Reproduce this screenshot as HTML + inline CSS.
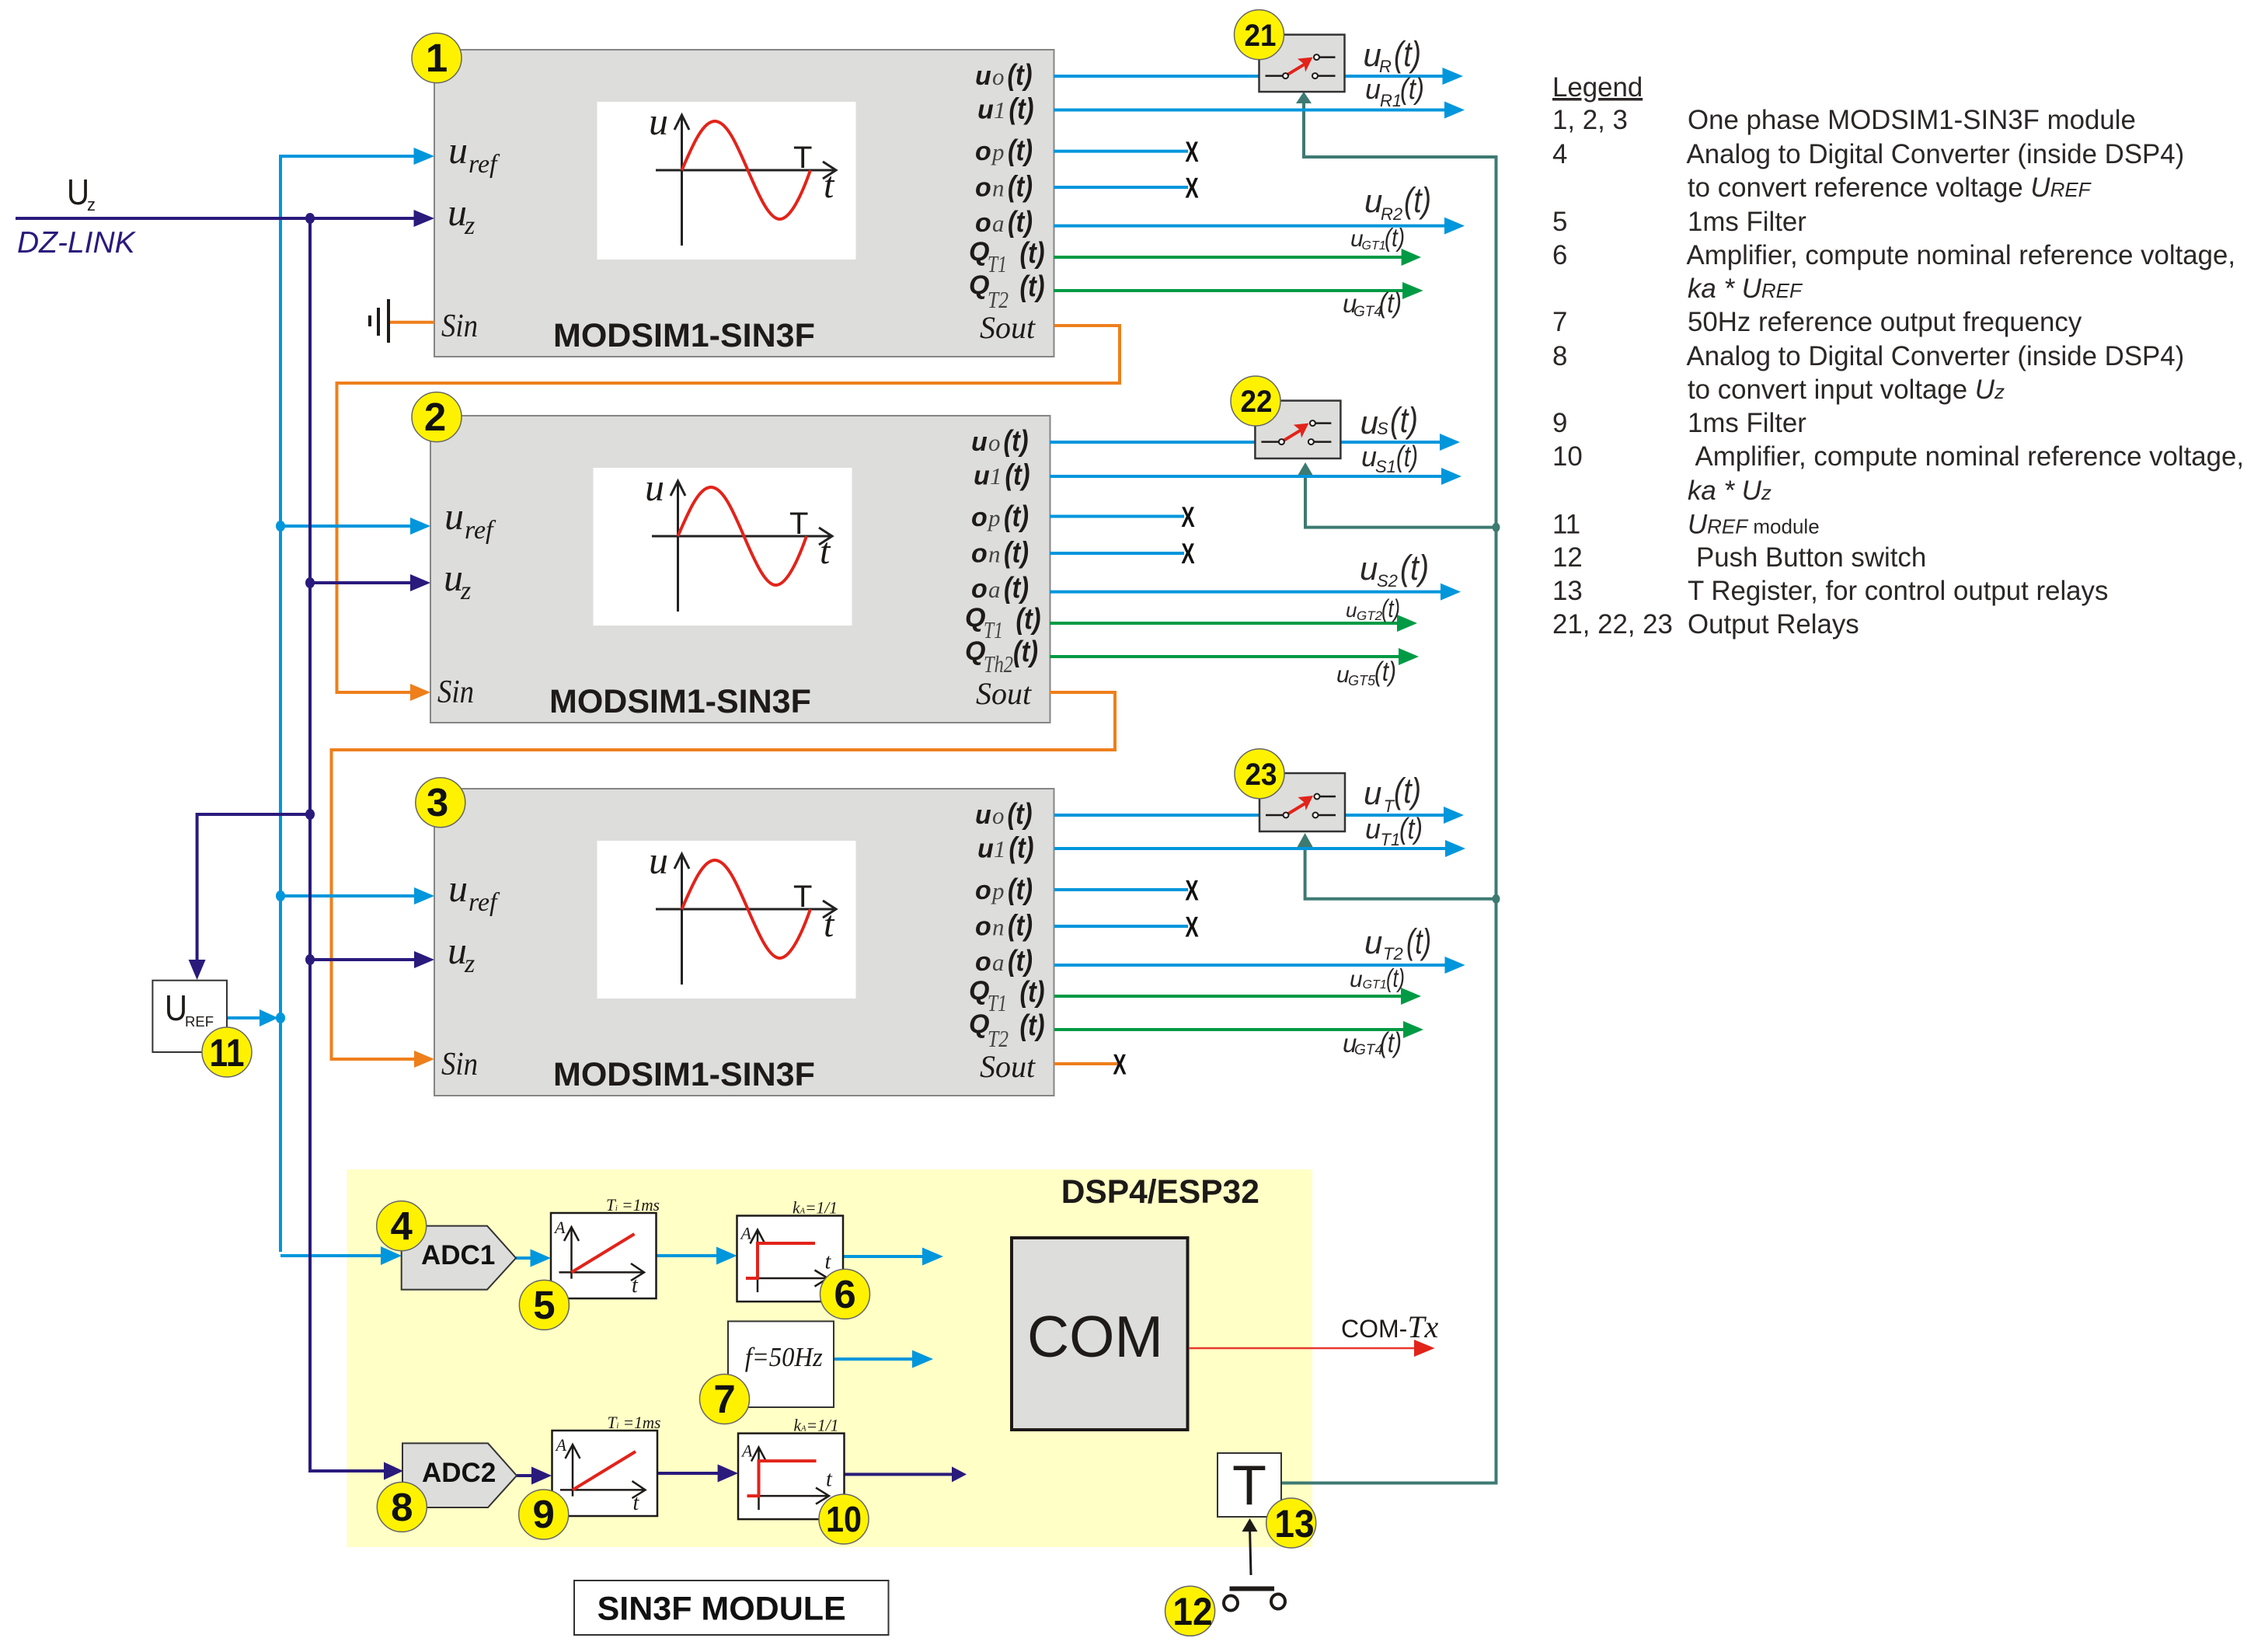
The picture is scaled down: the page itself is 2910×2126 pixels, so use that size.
<!DOCTYPE html>
<html><head><meta charset="utf-8"><title>SIN3F MODULE</title>
<style>
html,body{margin:0;padding:0;background:#fff}
svg{display:block}
text{font-family:"Liberation Sans",sans-serif;fill:#1d1a18}
.s{font-family:"Liberation Serif",serif;font-style:italic}
.b{font-weight:bold}
.bi{font-weight:bold;font-style:italic;font-size:34px}
.bt{font-weight:bold;font-style:italic;font-size:38px}
.i{font-style:italic}
.lg{font-size:34.85px;fill:#2a2726}
.bd{font-weight:bold;fill:#111}
.sm{font-family:"Liberation Serif",serif;font-style:italic;font-size:31px;fill:#444}
.r{font-style:italic;fill:#2a2726}
</style></head><body>
<svg xmlns="http://www.w3.org/2000/svg" width="2910" height="2126" viewBox="0 0 2910 2126">
<rect width="2910" height="2126" fill="#fff"/>

<!-- DSP background -->
<rect x="446.5" y="1505" width="1242.5" height="486" fill="#ffffc6"/>

<!-- MODULE 1 -->
<g transform="translate(559,64)">
<rect x="0" y="0" width="797.5" height="395" fill="#dddddc" stroke="#858585" stroke-width="2"/>
<rect x="209.5" y="67" width="333" height="203" fill="#fff"/>
<path d="M318.5 252V84M309 103L318.5 84L328 103M285 155H516M500 144L517 155L500 166" fill="none" stroke="#222" stroke-width="3"/>
<path transform="translate(318.5,155)" d="M0 0C15.3 -35.6 27.6 -63 42.5 -63C57.4 -63 69.7 -35.6 85 0C100.3 35.6 113 63 126 63C139 63 153 35.6 165.5 0" fill="none" stroke="#e2231a" stroke-width="4"/>
<text class="s" x="276" y="109" font-size="50">u</text>
<text x="462" y="152" font-size="40">T</text>
<text class="s" x="501" y="190" font-size="48">t</text>
<text class="s" x="18" y="146" font-size="50">u</text><text class="s" x="44" y="158" font-size="34" fill="#333">ref</text>
<text class="s" x="17" y="226" font-size="50">u</text><text class="s" x="39" y="237" font-size="34" fill="#333">z</text>
<text class="s" x="9" y="369" font-size="42" textLength="47" lengthAdjust="spacingAndGlyphs">Sin</text>
<text class="b" x="153" y="382" font-size="43">MODSIM1-SIN3F</text>
<text class="bi" x="696" y="45">u</text><text class="sm" x="718" y="45">o</text><text class="bt" x="737.5" y="45" textLength="32" lengthAdjust="spacingAndGlyphs">(t)</text>
<text class="bi" x="699" y="88.7">u</text><text class="sm" x="720" y="88" font-size="26">1</text><text class="bt" x="739.5" y="88.7" textLength="32" lengthAdjust="spacingAndGlyphs">(t)</text>
<text class="bi" x="696" y="142">o</text><text class="sm" x="718" y="142">p</text><text class="bt" x="738" y="142" textLength="32" lengthAdjust="spacingAndGlyphs">(t)</text>
<text class="bi" x="696" y="188.7">o</text><text class="sm" x="718" y="188.7">n</text><text class="bt" x="738" y="188.7" textLength="32" lengthAdjust="spacingAndGlyphs">(t)</text>
<text class="bi" x="696" y="234">o</text><text class="sm" x="718" y="234">a</text><text class="bt" x="738" y="234" textLength="32" lengthAdjust="spacingAndGlyphs">(t)</text>
<text class="bi" x="688" y="271">Q</text><text class="sm" x="712" y="286" font-size="27" textLength="25" lengthAdjust="spacingAndGlyphs">T1</text><text class="bt" x="753.5" y="274" textLength="32" lengthAdjust="spacingAndGlyphs">(t)</text>
<text class="bi" x="688" y="314">Q</text><text class="sm" x="712" y="332" font-size="27" textLength="27" lengthAdjust="spacingAndGlyphs">T2</text><text class="bt" x="753.5" y="317" textLength="32" lengthAdjust="spacingAndGlyphs">(t)</text>
<text class="s" x="702" y="371" font-size="40" fill="#333">Sout</text>
</g>

<!-- MODULE 2 -->
<g transform="translate(554,535)">
<rect x="0" y="0" width="797.5" height="395" fill="#dddddc" stroke="#858585" stroke-width="2"/>
<rect x="209.5" y="67" width="333" height="203" fill="#fff"/>
<path d="M318.5 252V84M309 103L318.5 84L328 103M285 155H516M500 144L517 155L500 166" fill="none" stroke="#222" stroke-width="3"/>
<path transform="translate(318.5,155)" d="M0 0C15.3 -35.6 27.6 -63 42.5 -63C57.4 -63 69.7 -35.6 85 0C100.3 35.6 113 63 126 63C139 63 153 35.6 165.5 0" fill="none" stroke="#e2231a" stroke-width="4"/>
<text class="s" x="276" y="109" font-size="50">u</text>
<text x="462" y="152" font-size="40">T</text>
<text class="s" x="501" y="190" font-size="48">t</text>
<text class="s" x="18" y="146" font-size="50">u</text><text class="s" x="44" y="158" font-size="34" fill="#333">ref</text>
<text class="s" x="17" y="225" font-size="50">u</text><text class="s" x="39" y="236" font-size="34" fill="#333">z</text>
<text class="s" x="9" y="369" font-size="42" textLength="47" lengthAdjust="spacingAndGlyphs">Sin</text>
<text class="b" x="153" y="382" font-size="43">MODSIM1-SIN3F</text>
<text class="bi" x="696" y="45">u</text><text class="sm" x="718" y="45">o</text><text class="bt" x="737.5" y="45" textLength="32" lengthAdjust="spacingAndGlyphs">(t)</text>
<text class="bi" x="699" y="88.7">u</text><text class="sm" x="720" y="88" font-size="26">1</text><text class="bt" x="739.5" y="88.7" textLength="32" lengthAdjust="spacingAndGlyphs">(t)</text>
<text class="bi" x="696" y="142">o</text><text class="sm" x="718" y="142">p</text><text class="bt" x="738" y="142" textLength="32" lengthAdjust="spacingAndGlyphs">(t)</text>
<text class="bi" x="696" y="188.7">o</text><text class="sm" x="718" y="188.7">n</text><text class="bt" x="738" y="188.7" textLength="32" lengthAdjust="spacingAndGlyphs">(t)</text>
<text class="bi" x="696" y="234">o</text><text class="sm" x="718" y="234">a</text><text class="bt" x="738" y="234" textLength="32" lengthAdjust="spacingAndGlyphs">(t)</text>
<text class="bi" x="688" y="271">Q</text><text class="sm" x="712" y="286" font-size="27" textLength="25" lengthAdjust="spacingAndGlyphs">T1</text><text class="bt" x="753.5" y="274" textLength="32" lengthAdjust="spacingAndGlyphs">(t)</text>
<text class="bi" x="688" y="314">Q</text><text class="sm" x="712" y="330" font-size="25" textLength="38" lengthAdjust="spacingAndGlyphs">Th2</text><text class="bt" x="750" y="316" textLength="32" lengthAdjust="spacingAndGlyphs">(t)</text>
<text class="s" x="702" y="371" font-size="40" fill="#333">Sout</text>
</g>

<!-- MODULE 3 -->
<g transform="translate(559,1015)">
<rect x="0" y="0" width="797.5" height="395" fill="#dddddc" stroke="#858585" stroke-width="2"/>
<rect x="209.5" y="67" width="333" height="203" fill="#fff"/>
<path d="M318.5 252V84M309 103L318.5 84L328 103M285 155H516M500 144L517 155L500 166" fill="none" stroke="#222" stroke-width="3"/>
<path transform="translate(318.5,155)" d="M0 0C15.3 -35.6 27.6 -63 42.5 -63C57.4 -63 69.7 -35.6 85 0C100.3 35.6 113 63 126 63C139 63 153 35.6 165.5 0" fill="none" stroke="#e2231a" stroke-width="4"/>
<text class="s" x="276" y="109" font-size="50">u</text>
<text x="462" y="152" font-size="40">T</text>
<text class="s" x="501" y="190" font-size="48">t</text>
<text class="s" x="18" y="145" font-size="50">u</text><text class="s" x="44" y="157" font-size="34" fill="#333">ref</text>
<text class="s" x="17" y="225" font-size="50">u</text><text class="s" x="39" y="236" font-size="34" fill="#333">z</text>
<text class="s" x="9" y="368" font-size="42" textLength="47" lengthAdjust="spacingAndGlyphs">Sin</text>
<text class="b" x="153" y="382" font-size="43">MODSIM1-SIN3F</text>
<text class="bi" x="696" y="45">u</text><text class="sm" x="718" y="45">o</text><text class="bt" x="737.5" y="45" textLength="32" lengthAdjust="spacingAndGlyphs">(t)</text>
<text class="bi" x="699" y="88.7">u</text><text class="sm" x="720" y="88" font-size="26">1</text><text class="bt" x="739.5" y="88.7" textLength="32" lengthAdjust="spacingAndGlyphs">(t)</text>
<text class="bi" x="696" y="142">o</text><text class="sm" x="718" y="142">p</text><text class="bt" x="738" y="142" textLength="32" lengthAdjust="spacingAndGlyphs">(t)</text>
<text class="bi" x="696" y="188.7">o</text><text class="sm" x="718" y="188.7">n</text><text class="bt" x="738" y="188.7" textLength="32" lengthAdjust="spacingAndGlyphs">(t)</text>
<text class="bi" x="696" y="234">o</text><text class="sm" x="718" y="234">a</text><text class="bt" x="738" y="234" textLength="32" lengthAdjust="spacingAndGlyphs">(t)</text>
<text class="bi" x="688" y="271">Q</text><text class="sm" x="712" y="286" font-size="27" textLength="25" lengthAdjust="spacingAndGlyphs">T1</text><text class="bt" x="753.5" y="274" textLength="32" lengthAdjust="spacingAndGlyphs">(t)</text>
<text class="bi" x="688" y="314">Q</text><text class="sm" x="712" y="332" font-size="27" textLength="27" lengthAdjust="spacingAndGlyphs">T2</text><text class="bt" x="753.5" y="317" textLength="32" lengthAdjust="spacingAndGlyphs">(t)</text>
<text class="s" x="702" y="371" font-size="40" fill="#333">Sout</text>
</g>

<!-- orange wires -->
<g fill="none" stroke="#ee7f1b" stroke-width="4">
<path d="M1357 419H1441V493H433.5V891H535"/>
<path d="M1351 891H1435V965H426.5V1363H535"/>
<path d="M1357 1369H1440"/>
<path d="M501 414.7H559"/>
</g>
<g fill="#ee7f1b">
<polygon points="528,880 554,891 528,902"/>
<polygon points="533,1352 559,1363 533,1374"/>
</g>
<g stroke="#1d1a18" fill="none">
<path d="M500 385V441" stroke-width="4"/><path d="M487 396V432" stroke-width="4"/><path d="M476 406V420" stroke-width="4"/>
</g>

<!-- teal wires -->
<g fill="none" stroke="#3d7a72" stroke-width="4">
<path d="M1649 1908.5H1925.5V202H1678V130"/>
<path d="M1925.5 678.6H1680V610"/>
<path d="M1925.5 1156.7H1679.6V1088"/>
</g>
<g fill="#3d7a72">
<polygon points="1678,118 1668,133 1688,133"/>
<polygon points="1680,595 1670,612 1690,612"/>
<polygon points="1679.6,1072 1669.6,1090 1689.6,1090"/>
<ellipse cx="1925.5" cy="678.6" rx="5" ry="6"/>
<ellipse cx="1925.5" cy="1156.7" rx="5" ry="6"/>
</g>

<!-- blue wires -->
<g fill="none" stroke="#0096dc" stroke-width="4">
<path d="M361 1611V201H535"/>
<path d="M361 677H530"/>
<path d="M361 1153H535"/>
<path d="M292 1310H340"/>
<path d="M361 1616H492"/>
<path d="M1356 98H1860M1356 141.5H1862M1356 194.6H1529M1356 241H1529M1356 290.6H1862"/>
<path d="M1351 569H1856M1351 613H1858M1351 664.5H1524M1351 712H1524M1351 761.6H1857"/>
<path d="M1357 1049H1861M1357 1092H1863M1357 1145H1529M1357 1192H1529M1357 1242H1862"/>
<path d="M664 1619H685M844 1616H925M1085 1617H1190M1073 1749H1177"/>
</g>
<g fill="#0096dc">
<polygon points="532.5,190 559,201 532.5,212"/>
<polygon points="528,666 554,677 528,688"/>
<polygon points="533,1142 559,1153 533,1164"/>
<polygon points="334,1299 358,1310 334,1321"/>
<polygon points="490,1604 517,1616 490,1628"/>
<polygon points="682.5,1607.5 709,1619 682.5,1630.5"/>
<polygon points="922,1604.5 948.5,1616 922,1627.5"/>
<polygon points="1187,1605.5 1214,1617 1187,1628.5"/>
<polygon points="1174,1737.5 1201,1749 1174,1760.5"/>
<polygon points="1856.5,87 1883,98 1856.5,109"/>
<polygon points="1859,130.5 1885,141.5 1859,152.5"/>
<polygon points="1859,279.6 1885,290.6 1859,301.6"/>
<polygon points="1853,558 1879,569 1853,580"/>
<polygon points="1855,602 1881,613 1855,624"/>
<polygon points="1854,750.6 1880,761.6 1854,772.6"/>
<polygon points="1858,1038 1884,1049 1858,1060"/>
<polygon points="1860,1081 1886,1092 1860,1103"/>
<polygon points="1859.5,1231 1885.6,1242 1859.5,1253"/>
<ellipse cx="361" cy="677" rx="6" ry="7"/>
<ellipse cx="361" cy="1153" rx="6" ry="7"/>
<ellipse cx="361" cy="1310" rx="6" ry="7"/>
</g>

<!-- navy wires -->
<g fill="none" stroke="#2a1a7c" stroke-width="4">
<path d="M20 281H540"/>
<path d="M399 281V1893H500"/>
<path d="M399 750H530"/>
<path d="M399 1235H535"/>
<path d="M399 1048H253.6V1240"/>
<path d="M665 1899H688M846 1896H927M1085.6 1897.4H1228"/>
</g>
<g fill="#2a1a7c">
<polygon points="532.5,270 559,281 532.5,292"/>
<polygon points="528,739 554,750 528,761"/>
<polygon points="533,1224 559,1235 533,1246"/>
<polygon points="242.6,1235 264.6,1235 253.6,1261"/>
<polygon points="494,1881.5 519,1893 494,1904.5"/>
<polygon points="684,1887.5 710,1899 684,1910.5"/>
<polygon points="923.6,1884.5 950,1896 923.6,1907.5"/>
<polygon points="1225,1887.4 1244,1897.4 1225,1907.4"/>
<ellipse cx="399" cy="281" rx="6" ry="7"/>
<ellipse cx="399" cy="750" rx="6" ry="7"/>
<ellipse cx="399" cy="1048" rx="6" ry="7"/>
<ellipse cx="399" cy="1235" rx="6" ry="7"/>
</g>

<!-- green wires -->
<g fill="none" stroke="#009a44" stroke-width="4">
<path d="M1356 331H1806M1356 374H1808"/>
<path d="M1351 802H1802M1351 845H1804"/>
<path d="M1357 1282H1806M1357 1325H1808"/>
</g>
<g fill="#009a44">
<polygon points="1803.6,320 1829,331 1803.6,342"/>
<polygon points="1805,363 1831.6,374 1805,385"/>
<polygon points="1798,791 1824,802 1798,813"/>
<polygon points="1800,834 1826,845 1800,856"/>
<polygon points="1803,1271 1829,1282 1803,1293"/>
<polygon points="1806,1314 1832,1325 1806,1336"/>
</g>

<!-- X terminators -->
<g class="bd" font-size="37">
<text transform="translate(1534,208) scale(.7,1)" text-anchor="middle" class="bd">X</text>
<text transform="translate(1534,254.5) scale(.7,1)" text-anchor="middle" class="bd">X</text>
<text transform="translate(1529,678) scale(.7,1)" text-anchor="middle" class="bd">X</text>
<text transform="translate(1529,725) scale(.7,1)" text-anchor="middle" class="bd">X</text>
<text transform="translate(1534,1158.5) scale(.7,1)" text-anchor="middle" class="bd">X</text>
<text transform="translate(1534,1205.5) scale(.7,1)" text-anchor="middle" class="bd">X</text>
<text transform="translate(1441,1382.5) scale(.7,1)" text-anchor="middle" class="bd">X</text>
</g>

<!-- Relays -->
<g transform="translate(1620.5,44.6)">
<rect width="110" height="73.5" fill="#dddddc" stroke="#333" stroke-width="2.5"/>
<path d="M8 53H32M76 53H98M78 29H98" stroke="#1d1a18" stroke-width="2.5" fill="none"/>
<path d="M34 53L62 36" stroke="#e2231a" stroke-width="4"/>
<polygon points="49.4,31 69,29 59.6,48 58,38" fill="#e2231a"/>
<circle cx="34" cy="53" r="3.5" fill="#fff" stroke="#1d1a18" stroke-width="2"/>
<circle cx="72" cy="53" r="3.5" fill="#fff" stroke="#1d1a18" stroke-width="2"/>
<circle cx="74" cy="29" r="3.5" fill="#fff" stroke="#1d1a18" stroke-width="2"/>
</g>
<g transform="translate(1615.4,515.6)">
<rect width="110" height="74.4" fill="#dddddc" stroke="#333" stroke-width="2.5"/>
<path d="M8 53H32M76 53H98M78 29H98" stroke="#1d1a18" stroke-width="2.5" fill="none"/>
<path d="M34 53L62 36" stroke="#e2231a" stroke-width="4"/>
<polygon points="49.4,31 69,29 59.6,48 58,38" fill="#e2231a"/>
<circle cx="34" cy="53" r="3.5" fill="#fff" stroke="#1d1a18" stroke-width="2"/>
<circle cx="72" cy="53" r="3.5" fill="#fff" stroke="#1d1a18" stroke-width="2"/>
<circle cx="74" cy="29" r="3.5" fill="#fff" stroke="#1d1a18" stroke-width="2"/>
</g>
<g transform="translate(1621,995)">
<rect width="110" height="75" fill="#dddddc" stroke="#333" stroke-width="2.5"/>
<path d="M8 54H32M76 54H98M78 30H98" stroke="#1d1a18" stroke-width="2.5" fill="none"/>
<path d="M34 54L62 37" stroke="#e2231a" stroke-width="4"/>
<polygon points="49.4,31 69,29 59.6,48 58,38" fill="#e2231a"/>
<circle cx="34" cy="54" r="3.5" fill="#fff" stroke="#1d1a18" stroke-width="2"/>
<circle cx="72" cy="54" r="3.5" fill="#fff" stroke="#1d1a18" stroke-width="2"/>
<circle cx="74" cy="30" r="3.5" fill="#fff" stroke="#1d1a18" stroke-width="2"/>
</g>

<!-- output labels m1 -->
<text class="r" x="1754.5" y="85" font-size="42">u</text><text class="r" x="1775" y="93" font-size="22">R</text><text class="r" x="1794" y="85" font-size="45" textLength="35" lengthAdjust="spacingAndGlyphs">(t)</text>
<text class="r" x="1757" y="127" font-size="36">u</text><text class="r" x="1776" y="137" font-size="22">R1</text><text class="r" x="1802" y="127" font-size="38" textLength="31" lengthAdjust="spacingAndGlyphs">(t)</text>
<text class="r" x="1756" y="273" font-size="42">u</text><text class="r" x="1777" y="283" font-size="22">R2</text><text class="r" x="1807" y="273" font-size="45" textLength="35" lengthAdjust="spacingAndGlyphs">(t)</text>
<text class="r" x="1738" y="317" font-size="30">u</text><text class="r" x="1752.5" y="321" font-size="16">GT1</text><text class="r" x="1782" y="317" font-size="33" textLength="26" lengthAdjust="spacingAndGlyphs">(t)</text>
<text class="r" x="1728" y="402" font-size="33">u</text><text class="r" x="1742" y="407" font-size="19">GT4</text><text class="r" x="1775" y="402" font-size="36" textLength="29" lengthAdjust="spacingAndGlyphs">(t)</text>
<!-- m2 -->
<text class="r" x="1750.6" y="558" font-size="42">u</text><text class="r" x="1772" y="559" font-size="22">S</text><text class="r" x="1789" y="556" font-size="45" textLength="36" lengthAdjust="spacingAndGlyphs">(t)</text>
<text class="r" x="1752" y="600" font-size="36">u</text><text class="r" x="1770" y="608" font-size="22">S1</text><text class="r" x="1797" y="600" font-size="38" textLength="28" lengthAdjust="spacingAndGlyphs">(t)</text>
<text class="r" x="1750" y="746" font-size="42">u</text><text class="r" x="1772" y="755" font-size="22">S2</text><text class="r" x="1802" y="746" font-size="45" textLength="37" lengthAdjust="spacingAndGlyphs">(t)</text>
<text class="r" x="1732" y="794" font-size="26">u</text><text class="r" x="1746" y="798" font-size="17">GT2</text><text class="r" x="1778" y="794" font-size="32" textLength="24" lengthAdjust="spacingAndGlyphs">(t)</text>
<text class="r" x="1720" y="878" font-size="30">u</text><text class="r" x="1735" y="882" font-size="18">GT5</text><text class="r" x="1769" y="876" font-size="35" textLength="28" lengthAdjust="spacingAndGlyphs">(t)</text>
<!-- m3 -->
<text class="r" x="1755" y="1035" font-size="42">u</text><text class="r" x="1780.6" y="1045" font-size="22">T</text><text class="r" x="1794" y="1033" font-size="45" textLength="35" lengthAdjust="spacingAndGlyphs">(t)</text>
<text class="r" x="1757" y="1079" font-size="36">u</text><text class="r" x="1776.5" y="1088" font-size="22">T1</text><text class="r" x="1801" y="1079" font-size="38" textLength="30" lengthAdjust="spacingAndGlyphs">(t)</text>
<text class="r" x="1756" y="1227" font-size="42">u</text><text class="r" x="1780" y="1235" font-size="22">T2</text><text class="r" x="1810" y="1227" font-size="45" textLength="32" lengthAdjust="spacingAndGlyphs">(t)</text>
<text class="r" x="1737" y="1270" font-size="30">u</text><text class="r" x="1753.6" y="1272" font-size="16">GT1</text><text class="r" x="1784" y="1270" font-size="33" textLength="24" lengthAdjust="spacingAndGlyphs">(t)</text>
<text class="r" x="1728" y="1354" font-size="33">u</text><text class="r" x="1743" y="1357" font-size="19">GT4</text><text class="r" x="1776" y="1354" font-size="36" textLength="28" lengthAdjust="spacingAndGlyphs">(t)</text>

<!-- Uz label -->
<text x="86" y="263" font-size="46" textLength="29" lengthAdjust="spacingAndGlyphs">U</text><text x="112" y="271" font-size="22" fill="#444">z</text>
<text class="i" x="22" y="325" font-size="39" style="fill:#2a1a7c">DZ-LINK</text>

<!-- UREF box -->
<rect x="196.4" y="1261.7" width="95.6" height="92.3" fill="#fff" stroke="#333" stroke-width="2"/>
<text x="212" y="1313" font-size="46" textLength="29" lengthAdjust="spacingAndGlyphs">U</text><text x="238" y="1321" font-size="18.5" fill="#333">REF</text>

<!-- ADC -->
<polygon points="516.7,1577.6 627,1577.6 664,1619 627,1659.6 516.7,1659.6" fill="#dddddc" stroke="#333" stroke-width="2"/>
<text class="bd" x="542" y="1627" font-size="35">ADC1</text>
<polygon points="518,1857.4 628,1857.4 665,1899 628,1940 518,1940" fill="#dddddc" stroke="#333" stroke-width="2"/>
<text class="bd" x="543" y="1907" font-size="35">ADC2</text>

<!-- Filter 5 -->
<g transform="translate(709,1561)">
<rect width="135.5" height="110" fill="#fff" stroke="#1d1a18" stroke-width="2.5"/>
<path d="M26.5 84.6V19M17 36L26.5 18L36 36M10.5 76.4H119M103 65L120 76.4L103 87" fill="none" stroke="#1d1a18" stroke-width="2.5"/>
<path d="M26.5 76.4L107.5 27" stroke="#e2231a" stroke-width="4"/>
<text class="s" x="5" y="26" font-size="22" fill="#444">A</text>
<text class="s" x="104" y="102" font-size="28">t</text>
<text class="s" x="71" y="-3" font-size="22" textLength="69" lengthAdjust="spacingAndGlyphs" fill="#333">T<tspan font-size="11">i</tspan> =1ms</text>
</g>
<!-- Filter 9 -->
<g transform="translate(710.5,1841)">
<rect width="135.5" height="110" fill="#fff" stroke="#1d1a18" stroke-width="2.5"/>
<path d="M26.5 84.6V19M17 36L26.5 18L36 36M10.5 76.4H119M103 65L120 76.4L103 87" fill="none" stroke="#1d1a18" stroke-width="2.5"/>
<path d="M26.5 76.4L107.5 27" stroke="#e2231a" stroke-width="4"/>
<text class="s" x="5" y="26" font-size="22" fill="#444">A</text>
<text class="s" x="104" y="102" font-size="28">t</text>
<text class="s" x="71" y="-3" font-size="22" textLength="69" lengthAdjust="spacingAndGlyphs" fill="#333">T<tspan font-size="11">i</tspan> =1ms</text>
</g>
<!-- Amp 6 -->
<g transform="translate(948.5,1564.5)">
<rect width="136.5" height="110.5" fill="#fff" stroke="#1d1a18" stroke-width="2.5"/>
<path d="M26.5 98.5V19M17 36L26.5 18L36 36M11.5 80.5H116M100 70L117 80.5L100 91" fill="none" stroke="#1d1a18" stroke-width="2.5"/>
<path d="M11.5 80.5H26.5V35.5H100.5" fill="none" stroke="#e2231a" stroke-width="4"/>
<text class="s" x="5" y="30" font-size="22" fill="#444">A</text>
<text class="s" x="113" y="68" font-size="28">t</text>
<text class="s" x="71.5" y="-3" font-size="22" textLength="58" lengthAdjust="spacingAndGlyphs" fill="#333">k<tspan font-size="11">A</tspan>=1/1</text>
</g>
<!-- Amp 10 -->
<g transform="translate(950,1844.6)">
<rect width="136.5" height="110.5" fill="#fff" stroke="#1d1a18" stroke-width="2.5"/>
<path d="M26.5 98.5V19M17 36L26.5 18L36 36M11.5 80.5H116M100 70L117 80.5L100 91" fill="none" stroke="#1d1a18" stroke-width="2.5"/>
<path d="M11.5 80.5H26.5V35.5H100.5" fill="none" stroke="#e2231a" stroke-width="4"/>
<text class="s" x="5" y="30" font-size="22" fill="#444">A</text>
<text class="s" x="113" y="68" font-size="28">t</text>
<text class="s" x="71.5" y="-3" font-size="22" textLength="58" lengthAdjust="spacingAndGlyphs" fill="#333">k<tspan font-size="11">A</tspan>=1/1</text>
</g>
<!-- 50Hz -->
<rect x="937" y="1700.4" width="136" height="110.6" fill="#fff" stroke="#333" stroke-width="2"/>
<text class="s" x="958.7" y="1758" font-size="35" textLength="100" lengthAdjust="spacingAndGlyphs">f=50Hz</text>

<!-- COM -->
<rect x="1302" y="1593" width="226.5" height="247" fill="#dddddc" stroke="#1d1a18" stroke-width="4"/>
<text x="1322" y="1746" font-size="75">COM</text>
<path d="M1530 1735H1825" stroke="#e8392f" stroke-width="2.5"/>
<polygon points="1820,1724 1846.5,1735 1820,1746" fill="#e2231a"/>
<text x="1726" y="1721" font-size="32">COM-<tspan class="s" font-size="40">Tx</tspan></text>
<text class="b" x="1365.7" y="1548" font-size="42.5">DSP4/ESP32</text>

<!-- T -->
<rect x="1567" y="1870" width="82" height="82" fill="#fff" stroke="#333" stroke-width="2"/>
<text x="1586" y="1936.5" font-size="72">T</text>
<path d="M1610 2027L1608.5 1965" stroke="#1d1a18" stroke-width="3"/>
<polygon points="1608.5,1954 1598.5,1971 1618.5,1971" fill="#1d1a18"/>
<path d="M1582.5 2044.5H1640" stroke="#1d1a18" stroke-width="6"/>
<ellipse cx="1584" cy="2063" rx="9" ry="9.5" fill="#fff" stroke="#1d1a18" stroke-width="4"/>
<ellipse cx="1645" cy="2061" rx="9" ry="9.5" fill="#fff" stroke="#1d1a18" stroke-width="4"/>

<!-- SIN3F MODULE -->
<rect x="739" y="2034" width="404.5" height="70" fill="#fff" stroke="#333" stroke-width="2"/>
<text class="bd" x="768.6" y="2084.5" font-size="43">SIN3F MODULE</text>

<!-- Badges -->
<g fill="#fff200" stroke="#666" stroke-width="1.5">
<circle cx="562" cy="74.6" r="32"/><circle cx="562" cy="536.6" r="32"/><circle cx="566.8" cy="1032.7" r="32"/>
<circle cx="516.7" cy="1577.6" r="32"/><circle cx="700.4" cy="1679.4" r="32"/><circle cx="1087.5" cy="1665.4" r="32"/>
<circle cx="932.5" cy="1800.5" r="32"/><circle cx="517.3" cy="1939.4" r="32"/><circle cx="699.7" cy="1949" r="32"/>
<circle cx="1086" cy="1955" r="32"/><circle cx="292" cy="1354" r="32"/><circle cx="1531.6" cy="2073.3" r="32"/>
<circle cx="1661.7" cy="1960" r="32"/><circle cx="1620.5" cy="44.6" r="32"/><circle cx="1616" cy="516" r="32"/><circle cx="1621" cy="995.7" r="32"/>
</g>
<g text-anchor="middle" font-size="51">
<text class="bd" x="562" y="92">1</text><text class="bd" x="560" y="554">2</text><text class="bd" x="563" y="1050">3</text>
<text class="bd" x="516.7" y="1595">4</text><text class="bd" x="700.4" y="1697">5</text><text class="bd" x="1087.5" y="1683">6</text>
<text class="bd" x="932.5" y="1818">7</text><text class="bd" x="517.3" y="1957">8</text><text class="bd" x="699.7" y="1966">9</text>
<text class="bd" transform="translate(1086,1971) scale(.9,1)" font-size="46">10</text>
<text class="bd" transform="translate(292,1372) scale(.85,1)" font-size="50">11</text>
<text class="bd" transform="translate(1535,2091) scale(.92,1)" font-size="50">12</text>
<text class="bd" transform="translate(1666,1978) scale(.92,1)" font-size="50">13</text>
<text class="bd" transform="translate(1622,59) scale(.92,1)" font-size="40">21</text>
<text class="bd" transform="translate(1617,530) scale(.92,1)" font-size="40">22</text>
<text class="bd" transform="translate(1623,1010) scale(.92,1)" font-size="40">23</text>
</g>

<!-- Legend -->
<g class="lg">
<text class="lg" x="1998" y="124" text-decoration="underline">Legend</text>
<text class="lg" x="1998" y="166">1, 2, 3</text><text class="lg" x="2172" y="166">One phase MODSIM1-SIN3F module</text>
<text class="lg" x="1998" y="210">4</text><text class="lg" x="2170.5" y="210">Analog to Digital Converter (inside DSP4)</text>
<text class="lg" x="2172" y="253">to convert reference voltage <tspan font-style="italic">U</tspan><tspan font-style="italic" font-size="26">REF</tspan></text>
<text class="lg" x="1998" y="297">5</text><text class="lg" x="2172" y="297">1ms Filter</text>
<text class="lg" x="1998" y="340">6</text><text class="lg" x="2170.5" y="340">Amplifier, compute nominal reference voltage,</text>
<text class="lg" x="2172" y="383" font-style="italic">ka * U<tspan font-size="26">REF</tspan></text>
<text class="lg" x="1998" y="426">7</text><text class="lg" x="2172" y="426">50Hz reference output frequency</text>
<text class="lg" x="1998" y="470">8</text><text class="lg" x="2170.5" y="470">Analog to Digital Converter (inside DSP4)</text>
<text class="lg" x="2172" y="513">to convert input voltage <tspan font-style="italic">U</tspan><tspan font-style="italic" font-size="26">z</tspan></text>
<text class="lg" x="1998" y="556">9</text><text class="lg" x="2172" y="556">1ms Filter</text>
<text class="lg" x="1998" y="599">10</text><text class="lg" x="2181.5" y="599">Amplifier, compute nominal reference voltage,</text>
<text class="lg" x="2172" y="643" font-style="italic">ka * U<tspan font-size="26">z</tspan></text>
<text class="lg" x="1998" y="686.5">11</text><text class="lg" x="2172" y="686.5"><tspan font-style="italic">U</tspan><tspan font-style="italic" font-size="26">REF</tspan><tspan font-size="26"> module</tspan></text>
<text class="lg" x="1998" y="729">12</text><text class="lg" x="2183" y="729">Push Button switch</text>
<text class="lg" x="1998" y="772">13</text><text class="lg" x="2172" y="772">T Register, for control output relays</text>
<text class="lg" x="1998" y="815">21, 22, 23</text><text class="lg" x="2172" y="815">Output Relays</text>
</g>
</svg>
</body></html>
